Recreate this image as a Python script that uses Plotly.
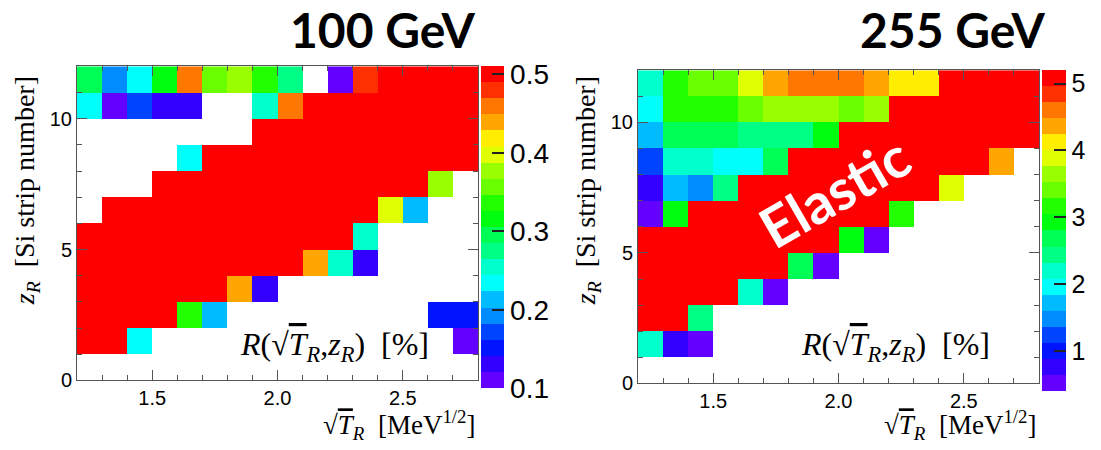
import colorsys
import plotly.graph_objects as go

# ---------------- data ----------------
sqrtT_centers = [1.25, 1.35, 1.45, 1.55, 1.65, 1.75, 1.85, 1.95,
                 2.05, 2.15, 2.25, 2.35, 2.45, 2.55, 2.65, 2.75]
strip_centers = [0.5, 1.5, 2.5, 3.5, 4.5, 5.5, 6.5, 7.5, 8.5, 9.5, 10.5, 11.5]
N = None

# R(sqrt(T_R), z_R) [%] at 100 GeV, rows listed from top strip (11) down to strip 0
R_100_top_down = [
    [.29, .19, .23, .32, .46, .36, .38, .34, .27, N, .11, .48, .5, .5, .5, .5],
    [.23, .11, .17, .13, .13, N, N, .25, .46, .5, .5, .5, .5, .5, .5, .5],
    [N, N, N, N, N, N, N, .5, .5, .5, .5, .5, .5, .5, .5, .5],
    [N, N, N, N, .23, .5, .5, .5, .5, .5, .5, .5, .5, .5, .5, .5],
    [N, N, N, .5, .5, .5, .5, .5, .5, .5, .5, .5, .5, .5, .38, N],
    [N, .5, .5, .5, .5, .5, .5, .5, .5, .5, .5, .5, .40, .21, N, N],
    [.5, .5, .5, .5, .5, .5, .5, .5, .5, .5, .5, .25, N, N, N, N],
    [.5, .5, .5, .5, .5, .5, .5, .5, .5, .44, .25, .13, N, N, N, N],
    [.5, .5, .5, .5, .5, .5, .44, .13, N, N, N, N, N, N, N, N],
    [.5, .5, .5, .5, .34, .21, N, N, N, N, N, N, N, N, .15, .15],
    [.5, .5, .23, N, N, N, N, N, N, N, N, N, N, N, N, .11],
    [N, N, N, N, N, N, N, N, N, N, N, N, N, N, N, N],
]

# R(sqrt(T_R), z_R) [%] at 255 GeV, rows listed from top strip (11) down to strip 0
R_255_top_down = [
    [2.2, 3.2, 3.4, 3.4, 3.9, 4.4, 4.6, 4.6, 4.6, 4.4, 4.1, 4.1, 5.1, 5.1, 5.1, 5.1],
    [2.0, 3.2, 3.2, 3.2, 3.4, 3.6, 3.6, 3.6, 3.4, 3.6, 5.1, 5.1, 5.1, 5.1, 5.1, 5.1],
    [1.7, 2.7, 2.7, 2.7, 2.4, 2.4, 2.4, 2.9, 5.1, 5.1, 5.1, 5.1, 5.1, 5.1, 5.1, 5.1],
    [1.2, 2.2, 2.2, 2.0, 2.0, 2.7, 5.1, 5.1, 5.1, 5.1, 5.1, 5.1, 5.1, 5.1, 4.4, N],
    [0.8, 1.7, 1.5, 2.4, 5.1, 5.1, 5.1, 5.1, 5.1, 5.1, 5.1, 5.1, 3.9, N, N, N],
    [0.5, 2.9, 5.1, 5.1, 5.1, 5.1, 5.1, 5.1, 5.1, 5.1, 3.2, N, N, N, N, N],
    [5.1, 5.1, 5.1, 5.1, 5.1, 5.1, 5.1, 5.1, 2.9, 0.5, N, N, N, N, N, N],
    [5.1, 5.1, 5.1, 5.1, 5.1, 5.1, 2.7, 0.5, N, N, N, N, N, N, N, N],
    [5.1, 5.1, 5.1, 5.1, 2.2, 0.5, N, N, N, N, N, N, N, N, N, N],
    [5.1, 5.1, 2.4, N, N, N, N, N, N, N, N, N, N, N, N, N],
    [2.2, 0.8, 0.5, N, N, N, N, N, N, N, N, N, N, N, N, N],
    [N, N, N, N, N, N, N, N, N, N, N, N, N, N, N, N],
]

z_range_100 = [0.1, 0.51]
z_range_255 = [0.4, 5.2]
cbar_ticks_100 = [0.1, 0.2, 0.3, 0.4, 0.5]
cbar_ticks_255 = [1, 2, 3, 4, 5]
titles = ["100 GeV", "255 GeV"]

# ---------------- palette (ROOT "pretty" palette, 20 contours) ----------------
NCONT, NCOL = 20, 50
pal = []
for k in range(NCONT):
    idx = int((k + 0.99) * NCOL / NCONT)
    hue = 280 - (idx + 1) * (280.0 / NCOL)
    r, g, b = colorsys.hls_to_rgb(max(hue, 0) / 360.0, 0.5, 1.0)
    pal.append("rgb(%d,%d,%d)" % (round(r * 255), round(g * 255), round(b * 255)))
cscale = []
for k, c in enumerate(pal):
    cscale.append([k / NCONT, c])
    cscale.append([(k + 1) / NCONT, c])

W, H = 1101, 450
def px(x):
    return x / W
def py(y):
    return 1 - y / H

# panel geometry in pixels
P = [dict(x0=77, x1=478, y0=68, y1=390, cb0=481, cbw=23, cfont=28, tx=478),
     dict(x0=638, x1=1039, y0=72, y1=393, cb0=1042, cbw=24, cfont=25, tx=1048)]

fig = go.Figure()
datasets = [R_100_top_down[::-1], R_255_top_down[::-1]]
zr = [z_range_100, z_range_255]
ct = [cbar_ticks_100, cbar_ticks_255]
for i in range(2):
    g = P[i]
    fig.add_trace(go.Heatmap(
        x=sqrtT_centers, y=strip_centers, z=datasets[i],
        zmin=zr[i][0], zmax=zr[i][1], colorscale=cscale,
        xaxis="x" if i == 0 else "x2", yaxis="y" if i == 0 else "y2",
        hoverongaps=False,
        colorbar=dict(
            x=px(g["cb0"]), xanchor="left", xpad=0, ypad=0,
            y=py(g["y0"]), yanchor="top", lenmode="pixels", len=g["y1"] - g["y0"],
            thickness=g["cbw"], thicknessmode="pixels", outlinewidth=0,
            tickmode="array", tickvals=ct[i], ticks="inside", ticklen=12,
            tickcolor="#222", tickwidth=1.5,
            tickfont=dict(family="Liberation Sans, Arial", size=g["cfont"], color="black"),
        ),
    ))

axis_common = dict(showline=True, linecolor="#555", linewidth=1, mirror="allticks",
                   ticks="inside", ticklen=10, tickcolor="#555", showgrid=False,
                   zeroline=False,
                   tickfont=dict(family="Liberation Sans, Arial", size=20, color="black"))
layout = dict(width=W, height=H, autosize=False, margin=dict(l=0, r=0, t=0, b=0),
              paper_bgcolor="white", plot_bgcolor="white", showlegend=False)
for i in range(2):
    g = P[i]
    sx = "" if i == 0 else "2"
    layout["xaxis" + sx] = dict(axis_common, domain=[px(g["x0"]), px(g["x1"])],
                                range=[1.2, 2.8], anchor="y" + sx,
                                tickmode="linear", tick0=1.5, dtick=0.5, tickformat=".1f",
                                minor=dict(dtick=0.1, tick0=1.2, ticklen=5, ticks="inside",
                                           tickcolor="#555"))
    layout["yaxis" + sx] = dict(axis_common, domain=[py(g["y1"]), py(g["y0"])],
                                range=[0, 12], anchor="x" + sx,
                                tickmode="linear", tick0=0, dtick=5,
                                minor=dict(dtick=1, tick0=0, ticklen=5, ticks="inside",
                                           tickcolor="#555"))
fig.update_layout(**layout)

serif = "Liberation Serif, Times New Roman, serif"
sqrtT = "√<span style='text-decoration:overline'><i>T</i></span><i><sub>R</sub></i>"
ann = []
for i in range(2):
    g = P[i]
    # big title
    ann.append(dict(text="<b>%s</b>" % titles[i], x=px(g["tx"]), y=py(30), xref="paper", yref="paper",
                    xanchor="right", yanchor="middle", showarrow=False,
                    font=dict(family="Lato, Open Sans, sans-serif", size=48, color="black")))
    # y axis title
    ann.append(dict(text="<i>z<sub>R</sub></i>  [Si strip number]", textangle=-90,
                    x=px(g["x0"] - 51), y=py(196), xref="paper", yref="paper",
                    xanchor="center", yanchor="middle", showarrow=False,
                    font=dict(family=serif, size=28, color="black")))
    # x axis title
    ann.append(dict(text=sqrtT + "  [MeV<sup>1/2</sup>]",
                    x=px(g["x1"]), y=py(436), xref="paper", yref="paper",
                    xanchor="right", yanchor="middle", showarrow=False,
                    font=dict(family=serif, size=27, color="black")))
    # in-plot label
    ann.append(dict(text="<i>R</i>(" + sqrtT + ",<i>z<sub>R</sub></i>)  [%]",
                    x=px(g["x1"] - 47), y=py(355), xref="paper", yref="paper",
                    xanchor="right", yanchor="middle", showarrow=False,
                    font=dict(family=serif, size=32, color="black")))
ann.append(dict(text="<b>Elastic</b>", textangle=-30, x=px(834), y=py(196),
                xref="paper", yref="paper", xanchor="center", yanchor="middle",
                showarrow=False, font=dict(family="Lato, Open Sans, sans-serif", size=56, color="white")))
fig.update_layout(annotations=ann)

fig.write_html("out.html")
